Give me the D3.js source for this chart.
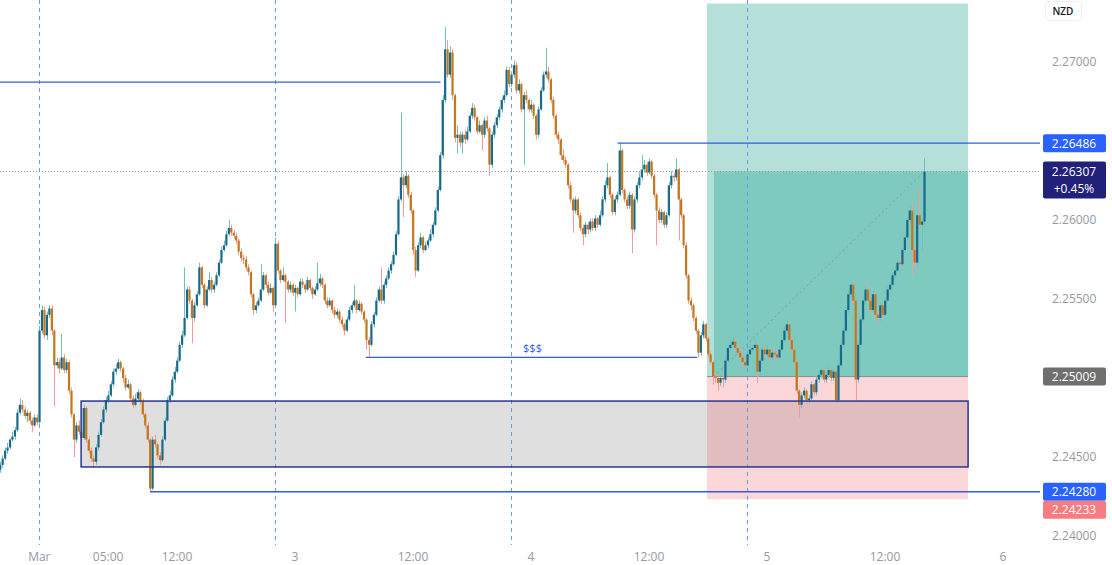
<!DOCTYPE html>
<html>
<head>
<meta charset="utf-8">
<script src="https://cdnjs.cloudflare.com/ajax/libs/d3/7.8.5/d3.min.js"></script>
<style>
  body { margin: 0; background: #fff; }
  svg { display: block; font-family: "Open Sans", "DejaVu Sans", sans-serif; }
</style>
</head>
<body>
<div id="chart"></div>
<script>
// 15 minute bars, hours counted from day "2" 00:00
const firstBarHour = -6
const barHours = 0.25
const firstOpen = 2.2442

const closes = [
  2.2445,2.2449,2.2454,2.2456,2.2461,2.2463,2.2467,2.2478,2.2483,2.2480,
  2.2476,2.2478,2.2473,2.2470,2.2475,2.2472,2.2530,2.2543,2.2527,2.2540,
  2.2544,2.2530,2.2508,2.2510,2.2506,2.2513,2.2505,2.2510,2.2492,2.2477,
  2.2461,2.2470,2.2466,2.2462,2.2481,2.2461,2.2454,2.2449,2.2447,2.2456,
  2.2464,2.2472,2.2480,2.2486,2.2489,2.2496,2.2504,2.2506,2.2510,2.2506,
  2.2500,2.2494,2.2496,2.2487,2.2483,2.2487,2.2491,2.2485,2.2477,2.2470,
  2.2461,2.2430,2.2461,2.2458,2.2451,2.2448,2.2461,2.2473,2.2486,2.2489,
  2.2499,2.2504,2.2511,2.2521,2.2527,2.2538,2.2556,2.2549,2.2538,2.2546,
  2.2553,2.2570,2.2559,2.2546,2.2556,2.2562,2.2556,2.2559,2.2565,2.2573,
  2.2581,2.2584,2.2591,2.2595,2.2592,2.2590,2.2587,2.2580,2.2576,2.2575,
  2.2570,2.2567,2.2553,2.2543,2.2546,2.2549,2.2556,2.2565,2.2559,2.2554,
  2.2557,2.2546,2.2585,2.2568,2.2562,2.2565,2.2561,2.2556,2.2559,2.2554,
  2.2557,2.2553,2.2561,2.2559,2.2556,2.2562,2.2557,2.2553,2.2556,2.2560,
  2.2563,2.2559,2.2549,2.2546,2.2549,2.2543,2.2540,2.2542,2.2537,2.2534,
  2.2530,2.2537,2.2543,2.2546,2.2549,2.2543,2.2547,2.2542,2.2537,2.2524,
  2.2521,2.2534,2.2540,2.2549,2.2556,2.2549,2.2559,2.2563,2.2568,2.2572,
  2.2578,2.2591,2.2613,2.2627,2.2622,2.2628,2.2616,2.2606,2.2581,2.2568,
  2.2584,2.2589,2.2581,2.2584,2.2587,2.2591,2.2597,2.2606,2.2619,2.2641,
  2.2676,2.2708,2.2692,2.2706,2.2679,2.2652,2.2654,2.2649,2.2654,2.2651,
  2.2656,2.2666,2.2671,2.2665,2.2656,2.2660,2.2654,2.2663,2.2658,2.2635,
  2.2654,2.2660,2.2665,2.2670,2.2676,2.2679,2.2695,2.2686,2.2692,2.2698,
  2.2682,2.2686,2.2670,2.2679,2.2676,2.2670,2.2673,2.2666,2.2654,2.2670,
  2.2682,2.2692,2.2694,2.2689,2.2676,2.2666,2.2654,2.2651,2.2641,2.2638,
  2.2635,2.2622,2.2613,2.2606,2.2613,2.2603,2.2595,2.2591,2.2597,2.2594,
  2.2599,2.2595,2.2601,2.2597,2.2603,2.2613,2.2622,2.2627,2.2616,2.2605,
  2.2613,2.2616,2.2644,2.2619,2.2613,2.2609,2.2616,2.2594,2.2613,2.2622,
  2.2627,2.2632,2.2635,2.2630,2.2637,2.2628,2.2616,2.2606,2.2600,2.2605,
  2.2597,2.2603,2.2622,2.2628,2.2627,2.2632,2.2613,2.2603,2.2584,2.2565,
  2.2549,2.2546,2.2538,2.2530,2.2516,2.2527,2.2534,2.2525,2.2515,2.2510,
  2.2501,2.2500,2.2497,2.2500,2.2499,2.2511,2.2519,2.2521,2.2523,2.2519,
  2.2516,2.2513,2.2510,2.2508,2.2515,2.2518,2.2519,2.2521,2.2504,2.2511,
  2.2518,2.2515,2.2518,2.2513,2.2516,2.2515,2.2513,2.2518,2.2524,2.2530,
  2.2534,2.2524,2.2518,2.2510,2.2492,2.2483,2.2489,2.2492,2.2486,2.2487,
  2.2496,2.2491,2.2499,2.2502,2.2505,2.2499,2.2502,2.2505,2.2500,2.2504,
  2.2486,2.2508,2.2521,2.2530,2.2543,2.2553,2.2559,2.2549,2.2499,2.2521,
  2.2537,2.2549,2.2556,2.2549,2.2543,2.2553,2.2540,2.2538,2.2546,2.2540,
  2.2549,2.2556,2.2559,2.2565,2.2568,2.2573,2.2572,2.2581,2.2589,2.2600,
  2.2606,2.2581,2.2573,2.2603,2.2597,2.2599,2.26307
]

const highs = [
  2.2447,2.2451,2.2456,2.2459,2.2462,2.2466,2.2469,2.2480,2.2487,2.2486,
  2.2482,2.2480,2.2479,2.2475,2.2477,2.2477,2.2533,2.2546,2.2545,2.2542,
  2.2546,2.2546,2.2531,2.2513,2.2512,2.2528,2.2515,2.2512,2.2511,2.2494,
  2.2478,2.2472,2.2473,2.2468,2.2483,2.2482,2.2463,2.2456,2.2451,2.2458,
  2.2466,2.2474,2.2482,2.2488,2.2492,2.2498,2.2506,2.2509,2.2512,2.2511,
  2.2507,2.2502,2.2499,2.2497,2.2489,2.2490,2.2493,2.2492,2.2487,2.2478,
  2.2472,2.2462,2.2463,2.2464,2.2459,2.2453,2.2463,2.2475,2.2488,2.2492,
  2.2501,2.2507,2.2513,2.2523,2.2530,2.2570,2.2558,2.2558,2.2550,2.2548,
  2.2555,2.2573,2.2571,2.2560,2.2558,2.2567,2.2564,2.2561,2.2567,2.2575,
  2.2583,2.2587,2.2593,2.2600,2.2597,2.2594,2.2592,2.2588,2.2582,2.2578,
  2.2577,2.2572,2.2568,2.2554,2.2548,2.2551,2.2572,2.2567,2.2566,2.2561,
  2.2560,2.2558,2.2589,2.2587,2.2569,2.2570,2.2566,2.2562,2.2561,2.2560,
  2.2559,2.2558,2.2563,2.2563,2.2560,2.2564,2.2563,2.2558,2.2558,2.2573,
  2.2566,2.2564,2.2560,2.2551,2.2551,2.2550,2.2545,2.2544,2.2543,2.2539,
  2.2535,2.2539,2.2545,2.2548,2.2559,2.2550,2.2549,2.2548,2.2543,2.2538,
  2.2526,2.2536,2.2542,2.2551,2.2558,2.2570,2.2561,2.2565,2.2570,2.2574,
  2.2580,2.2593,2.2615,2.2668,2.2629,2.2631,2.2629,2.2618,2.2607,2.2583,
  2.2586,2.2592,2.2590,2.2586,2.2589,2.2594,2.2599,2.2608,2.2621,2.2643,
  2.2679,2.2722,2.2714,2.2710,2.2708,2.2680,2.2660,2.2656,2.2656,2.2657,
  2.2659,2.2668,2.2674,2.2673,2.2666,2.2663,2.2661,2.2665,2.2666,2.2659,
  2.2656,2.2662,2.2667,2.2672,2.2678,2.2682,2.2697,2.2697,2.2694,2.2701,
  2.2700,2.2689,2.2687,2.2681,2.2682,2.2677,2.2676,2.2674,2.2667,2.2672,
  2.2684,2.2694,2.2709,2.2697,2.2690,2.2678,2.2667,2.2656,2.2652,2.2645,
  2.2640,2.2636,2.2624,2.2614,2.2615,2.2614,2.2605,2.2597,2.2599,2.2599,
  2.2601,2.2601,2.2603,2.2602,2.2606,2.2615,2.2625,2.2636,2.2628,2.2617,
  2.2615,2.2618,2.26486,2.2645,2.2620,2.2615,2.2618,2.2617,2.2615,2.2624,
  2.2630,2.2641,2.2638,2.2637,2.2639,2.2638,2.2629,2.2617,2.2608,2.2607,
  2.2606,2.2605,2.2624,2.2631,2.2630,2.2639,2.2633,2.2614,2.2604,2.2586,
  2.2566,2.2551,2.2547,2.2539,2.2531,2.2529,2.2536,2.2535,2.2526,2.2517,
  2.2511,2.2503,2.2502,2.2502,2.2502,2.2513,2.2521,2.2524,2.2527,2.2525,
  2.2521,2.2518,2.2515,2.2512,2.2517,2.2522,2.2521,2.2525,2.2522,2.2513,
  2.2520,2.2520,2.2521,2.2519,2.2518,2.2519,2.2517,2.2520,2.2526,2.2532,
  2.2537,2.2535,2.2526,2.2519,2.2511,2.2493,2.2491,2.2494,2.2493,2.2489,
  2.2498,2.2497,2.2501,2.2505,2.2507,2.2506,2.2504,2.2508,2.2506,2.2507,
  2.2505,2.2510,2.2523,2.2532,2.2545,2.2555,2.2561,2.2560,2.2550,2.2523,
  2.2539,2.2551,2.2558,2.2559,2.2551,2.2555,2.2554,2.2542,2.2548,2.2548,
  2.2551,2.2558,2.2561,2.2567,2.2571,2.2576,2.2576,2.2583,2.2592,2.2602,
  2.2609,2.2611,2.2583,2.2605,2.2620,2.2601,2.2639
]

const lows = [
  2.2440,2.2443,2.2448,2.2452,2.2455,2.2460,2.2461,2.2466,2.2477,2.2478,
  2.2474,2.2472,2.2471,2.2466,2.2469,2.2470,2.2471,2.2528,2.2525,2.2524,
  2.2538,2.2527,2.2482,2.2506,2.2503,2.2505,2.2503,2.2503,2.2490,2.2475,
  2.2450,2.2459,2.2464,2.2460,2.2461,2.2459,2.2452,2.2447,2.2443,2.2445,
  2.2454,2.2463,2.2471,2.2478,2.2484,2.2488,2.2494,2.2502,2.2505,2.2504,
  2.2497,2.2492,2.2493,2.2485,2.2481,2.2482,2.2485,2.2483,2.2475,2.2468,
  2.2459,2.24280,2.2429,2.2456,2.2449,2.2445,2.2447,2.2460,2.2472,2.2484,
  2.2488,2.2497,2.2503,2.2510,2.2519,2.2526,2.2537,2.2547,2.2522,2.2536,
  2.2545,2.2552,2.2557,2.2544,2.2545,2.2555,2.2554,2.2554,2.2558,2.2564,
  2.2572,2.2580,2.2583,2.2590,2.2590,2.2588,2.2585,2.2578,2.2574,2.2572,
  2.2568,2.2565,2.2551,2.2540,2.2541,2.2545,2.2548,2.2555,2.2557,2.2552,
  2.2553,2.2542,2.2545,2.2566,2.2560,2.2561,2.2535,2.2554,2.2554,2.2552,
  2.2542,2.2551,2.2552,2.2557,2.2554,2.2555,2.2555,2.2550,2.2552,2.2555,
  2.2558,2.2557,2.2547,2.2544,2.2545,2.2541,2.2538,2.2538,2.2535,2.2532,
  2.2527,2.2529,2.2536,2.2541,2.2545,2.2541,2.2542,2.2540,2.2535,2.2518,
  2.2513,2.2520,2.2532,2.2539,2.2548,2.2547,2.2547,2.2557,2.2562,2.2566,
  2.2571,2.2577,2.2590,2.2612,2.2602,2.2620,2.2614,2.2604,2.2578,2.2564,
  2.2567,2.2582,2.2579,2.2580,2.2582,2.2586,2.2589,2.2596,2.2605,2.2618,
  2.2639,2.2674,2.2690,2.2690,2.2676,2.2649,2.2642,2.2646,2.2642,2.2648,
  2.2650,2.2655,2.2664,2.2663,2.2654,2.2655,2.2644,2.2652,2.2656,2.2628,
  2.2633,2.2652,2.2658,2.2663,2.2668,2.2674,2.2678,2.2684,2.2684,2.2690,
  2.2680,2.2680,2.2668,2.2635,2.2674,2.2668,2.2668,2.2664,2.2651,2.2652,
  2.2669,2.2681,2.2690,2.2687,2.2674,2.2664,2.2652,2.2648,2.2638,2.2636,
  2.2633,2.2620,2.2611,2.2592,2.2604,2.2601,2.2593,2.2584,2.2589,2.2591,
  2.2592,2.2593,2.2593,2.2595,2.2596,2.2602,2.2611,2.2620,2.2614,2.2603,
  2.2603,2.2611,2.2615,2.2617,2.2611,2.2607,2.2607,2.2579,2.2592,2.2611,
  2.2620,2.2625,2.2630,2.2628,2.2629,2.2626,2.2614,2.2584,2.2598,2.2598,
  2.2595,2.2595,2.2602,2.2620,2.2624,2.2625,2.2587,2.2601,2.2582,2.2563,
  2.2547,2.2543,2.2536,2.2528,2.2513,2.2514,2.2525,2.2523,2.2513,2.2508,
  2.2496,2.2497,2.2492,2.2495,2.2494,2.2497,2.2510,2.2517,2.2519,2.2517,
  2.2514,2.2511,2.2508,2.2506,2.2507,2.2513,2.2516,2.2517,2.2497,2.2502,
  2.2510,2.2513,2.2513,2.2511,2.2511,2.2512,2.2511,2.2511,2.2517,2.2523,
  2.2528,2.2522,2.2516,2.2508,2.2490,2.2475,2.2481,2.2487,2.2484,2.2484,
  2.2486,2.2489,2.2489,2.2497,2.2500,2.2497,2.2497,2.2500,2.2498,2.2498,
  2.2484,2.2485,2.2507,2.2519,2.2529,2.2541,2.2551,2.2547,2.2486,2.2497,
  2.2520,2.2535,2.2547,2.2547,2.2541,2.2541,2.2538,2.2535,2.2536,2.2538,
  2.2539,2.2548,2.2555,2.2558,2.2563,2.2567,2.2570,2.2570,2.2579,2.2587,
  2.2598,2.2564,2.2570,2.2571,2.2595,2.2581,2.2597
]

const priceTicks = [2.27, 2.26, 2.255, 2.245, 2.24]
const timeTickHours = [-2, 5, 12, 24, 36, 48, 60, 72, 84, 96]
const timeTickLabels = ['Mar', '05:00', '12:00', '3', '12:00', '4', '12:00', '5', '12:00', '6']
const sessionBreakHours = [-2, 22, 46, 70]

const lastPrice = 2.26307
const lastChange = '+0.45%'

// drawings: [fromHour, toHour, price]
const levelLines = [
  { from: -7, to: 38.8, price: 2.26873 },
  { from: 56.8, to: null, price: 2.26486 },
  { from: 31.2, to: 64.9, price: 2.2513, text: '$$$' },
  { from: 9.25, to: null, price: 2.2428 }
]
const zoneBox = { from: 2.25, to: 92.45, top: 2.24854, bottom: 2.24437 }
const longPosition = { from: 65.9, filledFrom: 66.6, to: 92.45, entry: 2.25009, target: 2.2737, stop: 2.24233, nowHour: 88 }

const W = 1112, H = 565
const plotRight = 1040, plotBottom = 545

const svg = d3.select('#chart').append('svg').attr('width', W).attr('height', H)

const x = d3.scaleLinear().domain([0, 96]).range([59, 59 + 96 * 236 / 24])
const y = d3.scaleLinear().domain([2.24, 2.27]).range([536, 62])

svg.append('clipPath').attr('id', 'plot')
  .append('rect').attr('x', 0).attr('y', 0).attr('width', plotRight).attr('height', plotBottom)

let plot = svg.append('g').attr('clip-path', 'url(#plot)')

// zone box fill
plot.append('rect')
  .attr('x', x(zoneBox.from)).attr('width', x(zoneBox.to) - x(zoneBox.from))
  .attr('y', y(zoneBox.top)).attr('height', y(zoneBox.bottom) - y(zoneBox.top))
  .attr('fill', 'rgba(128,128,128,0.25)')

// long position tool
let lp = longPosition
plot.append('rect')
  .attr('x', x(lp.from)).attr('width', x(lp.to) - x(lp.from))
  .attr('y', y(lp.target)).attr('height', y(lp.entry) - y(lp.target))
  .attr('fill', 'rgba(8,153,129,0.3)')
plot.append('rect')
  .attr('x', x(lp.filledFrom)).attr('width', x(lp.to) - x(lp.filledFrom))
  .attr('y', y(lastPrice)).attr('height', y(lp.entry) - y(lastPrice))
  .attr('fill', 'rgba(8,153,129,0.3)')
plot.append('rect')
  .attr('x', x(lp.from)).attr('width', x(lp.to) - x(lp.from))
  .attr('y', y(lp.entry)).attr('height', y(lp.stop) - y(lp.entry))
  .attr('fill', 'rgba(242,54,69,0.2)')

// session breaks
plot.selectAll('.session')
  .data(sessionBreakHours)
  .enter()
  .append('line')
  .attr('x1', d => Math.round(x(d)) + 0.5).attr('x2', d => Math.round(x(d)) + 0.5)
  .attr('y1', 0).attr('y2', plotBottom)
  .attr('stroke', '#6f9be6').attr('stroke-width', 1).attr('stroke-dasharray', '4,4')

// last price dotted line
plot.append('line')
  .attr('x1', 0).attr('x2', plotRight)
  .attr('y1', Math.round(y(lastPrice)) + 0.5).attr('y2', Math.round(y(lastPrice)) + 0.5)
  .attr('stroke', '#9598a1').attr('stroke-dasharray', '1,2')

// entry line + diagonal
plot.append('line')
  .attr('x1', x(lp.from)).attr('x2', x(lp.to))
  .attr('y1', y(lp.entry)).attr('y2', y(lp.entry))
  .attr('stroke', '#8a8d96').attr('stroke-width', 1)
plot.append('line')
  .attr('x1', x(lp.filledFrom)).attr('y1', y(lp.entry))
  .attr('x2', x(lp.nowHour)).attr('y2', y(lastPrice))
  .attr('stroke', '#8a9a98').attr('stroke-width', 1).attr('stroke-dasharray', '2,3')

// candles
const candles = closes.map((c, i) => ({
  hour: firstBarHour + i * barHours,
  open: i ? closes[i - 1] : firstOpen,
  close: c,
  high: highs[i],
  low: lows[i]
}))

let bars = plot.append('g').selectAll('g')
  .data(candles)
  .enter()
  .append('g')

bars.append('line')
  .attr('x1', d => Math.round(x(d.hour)) + 0.5)
  .attr('x2', d => Math.round(x(d.hour)) + 0.5)
  .attr('y1', d => y(d.high))
  .attr('y2', d => y(d.low))
  .attr('stroke', d => d.close >= d.open ? '#6fc2b8' : '#f29aa0')
  .attr('stroke-width', 1)

bars.append('rect')
  .attr('x', d => x(d.hour) - 0.9)
  .attr('width', 2.2)
  .attr('y', d => y(Math.max(d.open, d.close)))
  .attr('height', d => Math.max(1, Math.abs(y(d.open) - y(d.close))))
  .attr('fill', d => d.close >= d.open ? '#19698f' : '#c4761a')

// zone box border
plot.append('rect')
  .attr('x', x(zoneBox.from)).attr('width', x(zoneBox.to) - x(zoneBox.from))
  .attr('y', y(zoneBox.top)).attr('height', y(zoneBox.bottom) - y(zoneBox.top))
  .attr('fill', 'none').attr('stroke', '#283593').attr('stroke-width', 1.5)

// horizontal levels
plot.selectAll('.level')
  .data(levelLines)
  .enter()
  .append('line')
  .attr('x1', d => x(d.from))
  .attr('x2', d => d.to === null ? plotRight + 4 : x(d.to))
  .attr('y1', d => y(d.price)).attr('y2', d => y(d.price))
  .attr('stroke', '#2f5fe0').attr('stroke-width', 1.3)

levelLines.filter(d => d.text).forEach(d => {
  plot.append('text')
    .attr('x', (x(d.from) + x(d.to)) / 2 + 1)
    .attr('y', y(d.price) - 5)
    .attr('text-anchor', 'middle')
    .attr('font-size', 11)
    .attr('fill', '#2f5fe0')
    .text(d.text)
})

// price axis
let axis = svg.append('g')
axis.selectAll('.tick')
  .data(priceTicks)
  .enter()
  .append('text')
  .attr('x', 1052)
  .attr('y', d => y(d))
  .attr('dy', '0.35em')
  .attr('font-size', 12)
  .attr('fill', '#9598a1')
  .text(d => d.toFixed(5))

function priceTag(cy, h, fill, lines) {
  axis.append('rect')
    .attr('x', 1043).attr('y', cy - h / 2).attr('width', 63).attr('height', h)
    .attr('rx', 2).attr('fill', fill)
  lines.forEach((t, k) => {
    axis.append('text')
      .attr('x', 1074).attr('y', cy - (lines.length - 1) * 8.5 + k * 17)
      .attr('dy', '0.36em').attr('text-anchor', 'middle')
      .attr('font-size', 12).attr('fill', '#fff')
      .text(t)
  })
}

priceTag(y(2.26486), 18, '#2962ff', [(2.26486).toFixed(5)])
priceTag(y(lastPrice) + 8.5, 37, '#22217a', [lastPrice.toFixed(5), lastChange])
priceTag(y(lp.entry), 18, '#6f6f6f', [lp.entry.toFixed(5)])
priceTag(y(2.2428), 18, '#2962ff', [(2.2428).toFixed(5)])
priceTag(y(2.2428) + 18, 18, '#f57c80', [lp.stop.toFixed(5)])

// currency badge
axis.append('rect')
  .attr('x', 1045.5).attr('y', 1.5).attr('width', 36).attr('height', 19)
  .attr('rx', 3).attr('fill', '#fff').attr('stroke', '#eceef2')
axis.append('text')
  .attr('x', 1063).attr('y', 11).attr('dy', '0.35em').attr('text-anchor', 'middle')
  .attr('font-size', 10).attr('font-weight', 600).attr('fill', '#131722')
  .text('NZD')

// time axis
svg.append('g').selectAll('text')
  .data(timeTickHours)
  .enter()
  .append('text')
  .attr('x', d => x(d))
  .attr('y', 557)
  .attr('dy', '0.35em')
  .attr('text-anchor', 'middle')
  .attr('font-size', 12)
  .attr('fill', '#9598a1')
  .text((d, i) => timeTickLabels[i])
</script>
</body>
</html>
